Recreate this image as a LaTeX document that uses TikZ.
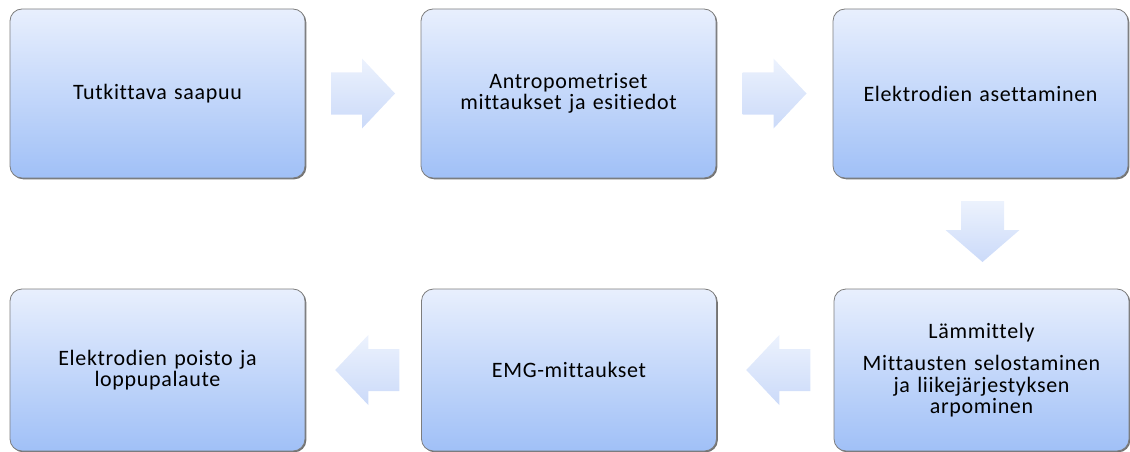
\documentclass[tikz,border=0pt]{standalone}
\usepackage{fontspec}
\setmainfont{Carlito}[LetterSpace=3,Ligatures={NoCommon}]
\usetikzlibrary{calc,shadows}
\definecolor{boxtop}{RGB}{232,239,253}
\definecolor{boxbot}{RGB}{160,192,247}
\definecolor{arrtop}{RGB}{236,242,253}
\definecolor{arrbot}{RGB}{203,218,249}
\definecolor{edge}{RGB}{125,125,125}
\definecolor{shadecol}{RGB}{80,80,80}
\begin{document}
\begin{tikzpicture}[x=1pt,y=-1pt,
  stepbox/.style={rectangle, rounded corners=12pt, minimum width=295pt, minimum height=169pt,
    top color=boxtop, bottom color=boxbot, draw=edge, line width=0.8pt,
    align=center, text width=285pt, inner sep=0pt,
    font=\fontsize{22}{21.5}\selectfont,
    drop shadow={shadow xshift=1.3pt, shadow yshift=-1.3pt, fill=shadecol, opacity=0.8}},
  lowbox/.style={stepbox, minimum height=162pt},
  blockarrow/.style={top color=arrtop, bottom color=arrbot, draw=none}]
\useasboundingbox (0,0) rectangle (1130,452);

\node[stepbox] (b1) at (157.5,93.5) {Tutkittava saapuu};
\node[stepbox] (b2) at (568.5,93.5) {Antropometriset\\ mittaukset ja esitiedot};
\node[stepbox] (b3) at (980.5,93.5) {Elektrodien asettaminen};
\node[lowbox] (b4) at (981.5,370) {Lämmittely\\[11pt] Mittausten selostaminen\\ ja liikejärjestyksen\\ arpominen};
\node[lowbox] (b5) at (569,370) {EMG-mittaukset};
\node[lowbox] (b6) at (157.5,370) {Elektrodien poisto ja\\ loppupalaute};

% right arrows
\path[blockarrow] ($(b1.east)!.5!(b2.west)+(-32,-21)$) -- ++(31,0) -- ++(0,-14) -- ++(33,35)
  -- ++(-33,35) -- ++(0,-14) -- ++(-31,0) -- cycle;
\path[blockarrow] ($(b2.east)!.5!(b3.west)+(-32,-21)$) -- ++(31,0) -- ++(0,-14) -- ++(33,35)
  -- ++(-33,35) -- ++(0,-14) -- ++(-31,0) -- cycle;
% down arrow
\path[blockarrow] ($(b3.south)!.5!(b4.north)+(-20,-32.5)$) -- ++(0,29) -- ++(-15.5,0) -- ++(37,32)
  -- ++(37,-32) -- ++(-15.5,0) -- ++(0,-29) -- cycle;
% left arrows
\path[blockarrow] ($(b4.west)!.5!(b5.east)+(35,-21)$) -- ++(-31,0) -- ++(0,-14) -- ++(-33,35)
  -- ++(33,35) -- ++(0,-14) -- ++(31,0) -- cycle;
\path[blockarrow] ($(b5.west)!.5!(b6.east)+(36,-21)$) -- ++(-31,0) -- ++(0,-14) -- ++(-33,35)
  -- ++(33,35) -- ++(0,-14) -- ++(31,0) -- cycle;
\end{tikzpicture}
\end{document}
